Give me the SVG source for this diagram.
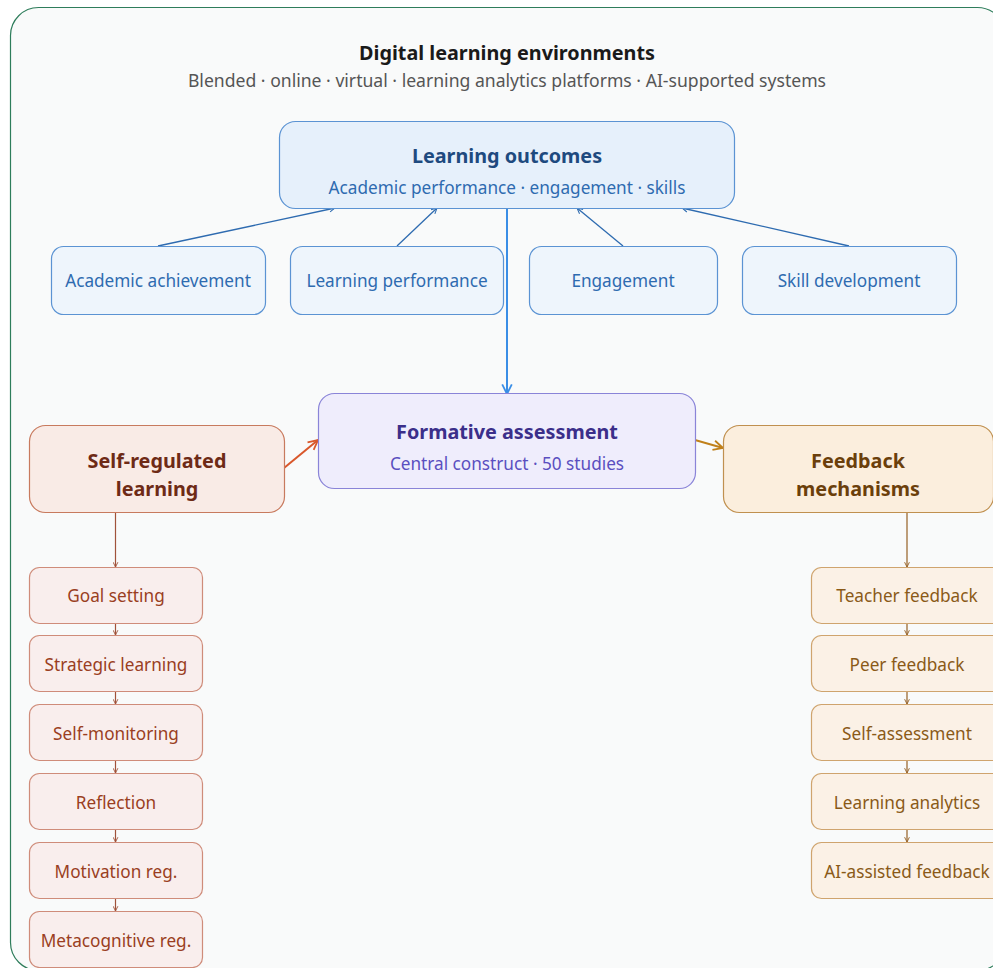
<svg xmlns="http://www.w3.org/2000/svg" width="993" height="968" viewBox="0 0 993 968">
<defs>
<style>
text{font-family:"Noto Sans","Open Sans","DejaVu Sans",sans-serif;text-anchor:middle}
.t{font-size:19.8px;font-weight:700;fill:#1a1a1a}
.st{font-size:17.6px;fill:#555}
.lo rect{fill:#e6f0fb;stroke:#5b93d3;stroke-width:1.2}
.lo .h{font-size:19.8px;font-weight:700;fill:#1e4a7f}
.lo .s{font-size:17.2px;fill:#2e6bb0}
.lb rect{fill:#eef5fc;stroke:#5b93d3;stroke-width:1.2}
.lb text{font-size:17.2px;fill:#2e6bb0}
.fa rect{fill:#efedfc;stroke:#8a84d8;stroke-width:1.2}
.fa .h{font-size:19.8px;font-weight:700;fill:#3b2f8a}
.fa .s{font-size:17.2px;fill:#5a4fc0}
.srl rect{fill:#f9ebe6;stroke:#c87a5e;stroke-width:1.2}
.srl text{font-size:19.8px;font-weight:700;fill:#6e2a16}
.sb rect{fill:#f9eeed;stroke:#cf8c7a;stroke-width:1.2}
.sb text{font-size:17.2px;fill:#9a3e22}
.fm rect{fill:#fbeedd;stroke:#c0904f;stroke-width:1.2}
.fm text{font-size:19.8px;font-weight:700;fill:#6b3f0b}
.fb rect{fill:#fbf1e6;stroke:#cfa46e;stroke-width:1.2}
.fb text{font-size:17.2px;fill:#8a5a18}
.c{fill:none}
</style>
<marker id="ab" viewBox="0 0 10 10" refX="9" refY="5" markerWidth="7" markerHeight="7" orient="auto" markerUnits="userSpaceOnUse"><path d="M1,1 L9,5 L1,9" fill="none" stroke="#2e6bb0" stroke-width="1.5"/></marker>
<marker id="ab2" viewBox="0 0 10 10" refX="9" refY="5" markerWidth="12" markerHeight="12" orient="auto" markerUnits="userSpaceOnUse"><path d="M1,1 L9,5 L1,9" fill="none" stroke="#3a8ee6" stroke-width="1.5"/></marker>
<marker id="ar" viewBox="0 0 10 10" refX="9" refY="5" markerWidth="12" markerHeight="12" orient="auto" markerUnits="userSpaceOnUse"><path d="M1,1 L9,5 L1,9" fill="none" stroke="#d9572b" stroke-width="1.5"/></marker>
<marker id="ao" viewBox="0 0 10 10" refX="9" refY="5" markerWidth="12" markerHeight="12" orient="auto" markerUnits="userSpaceOnUse"><path d="M1,1 L9,5 L1,9" fill="none" stroke="#c0801a" stroke-width="1.5"/></marker>
<marker id="as" viewBox="0 0 10 10" refX="9" refY="5" markerWidth="6" markerHeight="6" orient="auto" markerUnits="userSpaceOnUse"><path d="M1,1 L9,5 L1,9" fill="none" stroke="#a0523a" stroke-width="1.5"/></marker>
<marker id="af" viewBox="0 0 10 10" refX="9" refY="5" markerWidth="6" markerHeight="6" orient="auto" markerUnits="userSpaceOnUse"><path d="M1,1 L9,5 L1,9" fill="none" stroke="#946024" stroke-width="1.5"/></marker>
</defs>
<rect x="10.5" y="7.5" width="995" height="963" rx="28" fill="#f9fafa" stroke="#2e7d5b" stroke-width="1.2"/>
<g id="title">
<text class="t" x="507" y="60">Digital learning environments</text>
<text class="st" x="507" y="87">Blended · online · virtual · learning analytics platforms · AI-supported systems</text>
</g>
<g id="connectors" class="c">
<path d="M158,246 L335,208" stroke="#2e6bb0" stroke-width="1.3" marker-end="url(#ab)"/>
<path d="M397,246 L437,208" stroke="#2e6bb0" stroke-width="1.3" marker-end="url(#ab)"/>
<path d="M623,246 L577,208" stroke="#2e6bb0" stroke-width="1.3" marker-end="url(#ab)"/>
<path d="M849,246 L682,208" stroke="#2e6bb0" stroke-width="1.3" marker-end="url(#ab)"/>
<path d="M507,208 L507,394" stroke="#3a8ee6" stroke-width="2" marker-end="url(#ab2)"/>
<path d="M284,468 L318,440" stroke="#d9572b" stroke-width="2" marker-end="url(#ar)"/>
<path d="M695,440 L723,448" stroke="#c0801a" stroke-width="2" marker-end="url(#ao)"/>
<path d="M115.5,512 L115.5,567" stroke="#a0523a" stroke-width="1.2" marker-end="url(#as)"/>
<path d="M115.5,623 L115.5,635" stroke="#a0523a" stroke-width="1.2" marker-end="url(#as)"/>
<path d="M115.5,692 L115.5,704" stroke="#a0523a" stroke-width="1.2" marker-end="url(#as)"/>
<path d="M115.5,761 L115.5,773" stroke="#a0523a" stroke-width="1.2" marker-end="url(#as)"/>
<path d="M115.5,830 L115.5,842" stroke="#a0523a" stroke-width="1.2" marker-end="url(#as)"/>
<path d="M115.5,899 L115.5,911" stroke="#a0523a" stroke-width="1.2" marker-end="url(#as)"/>
<path d="M907,512 L907,567" stroke="#946024" stroke-width="1.2" marker-end="url(#af)"/>
<path d="M907,623 L907,635" stroke="#946024" stroke-width="1.2" marker-end="url(#af)"/>
<path d="M907,692 L907,704" stroke="#946024" stroke-width="1.2" marker-end="url(#af)"/>
<path d="M907,761 L907,773" stroke="#946024" stroke-width="1.2" marker-end="url(#af)"/>
<path d="M907,830 L907,842" stroke="#946024" stroke-width="1.2" marker-end="url(#af)"/>
</g>
<g id="learning-outcomes" class="lo">
<rect x="279.5" y="121.5" width="455" height="87" rx="16"/>
<text class="h" x="507" y="163">Learning outcomes</text>
<text class="s" x="507" y="194">Academic performance · engagement · skills</text>
</g>
<g id="academic-achievement" class="lb"><rect x="51.5" y="246.5" width="214" height="68" rx="12"/><text x="158" y="287">Academic achievement</text></g>
<g id="learning-performance" class="lb"><rect x="290.5" y="246.5" width="213" height="68" rx="12"/><text x="397" y="287">Learning performance</text></g>
<g id="engagement" class="lb"><rect x="529.5" y="246.5" width="188" height="68" rx="12"/><text x="623" y="287">Engagement</text></g>
<g id="skill-development" class="lb"><rect x="742.5" y="246.5" width="214" height="68" rx="12"/><text x="849" y="287">Skill development</text></g>
<g id="formative-assessment" class="fa">
<rect x="318.5" y="393.5" width="377" height="95" rx="16"/>
<text class="h" x="507" y="439">Formative assessment</text>
<text class="s" x="507" y="470">Central construct · 50 studies</text>
</g>
<g id="self-regulated-learning" class="srl">
<rect x="29.5" y="425.5" width="255" height="87" rx="16"/>
<text x="157" y="468">Self-regulated</text>
<text x="157" y="496">learning</text>
</g>
<g id="feedback-mechanisms" class="fm">
<rect x="723.5" y="425.5" width="270" height="87" rx="16"/>
<text x="858" y="468">Feedback</text>
<text x="858" y="496">mechanisms</text>
</g>
<g id="goal-setting" class="sb"><rect x="29.5" y="567.5" width="173" height="56" rx="10"/><text x="116" y="602">Goal setting</text></g>
<g id="strategic-learning" class="sb"><rect x="29.5" y="635.5" width="173" height="56" rx="10"/><text x="116" y="671">Strategic learning</text></g>
<g id="self-monitoring" class="sb"><rect x="29.5" y="704.5" width="173" height="56" rx="10"/><text x="116" y="740">Self-monitoring</text></g>
<g id="reflection" class="sb"><rect x="29.5" y="773.5" width="173" height="56" rx="10"/><text x="116" y="809">Reflection</text></g>
<g id="motivation-reg" class="sb"><rect x="29.5" y="842.5" width="173" height="56" rx="10"/><text x="116" y="878">Motivation reg.</text></g>
<g id="metacognitive-reg" class="sb"><rect x="29.5" y="911.5" width="173" height="56" rx="10"/><text x="116" y="947">Metacognitive reg.</text></g>
<g id="teacher-feedback" class="fb"><rect x="811.5" y="567.5" width="192" height="56" rx="10"/><text x="907" y="602">Teacher feedback</text></g>
<g id="peer-feedback" class="fb"><rect x="811.5" y="635.5" width="192" height="56" rx="10"/><text x="907" y="671">Peer feedback</text></g>
<g id="self-assessment" class="fb"><rect x="811.5" y="704.5" width="192" height="56" rx="10"/><text x="907" y="740">Self-assessment</text></g>
<g id="learning-analytics" class="fb"><rect x="811.5" y="773.5" width="192" height="56" rx="10"/><text x="907" y="809">Learning analytics</text></g>
<g id="ai-assisted-feedback" class="fb"><rect x="811.5" y="842.5" width="192" height="56" rx="10"/><text x="907" y="878">AI-assisted feedback</text></g>
</svg>
